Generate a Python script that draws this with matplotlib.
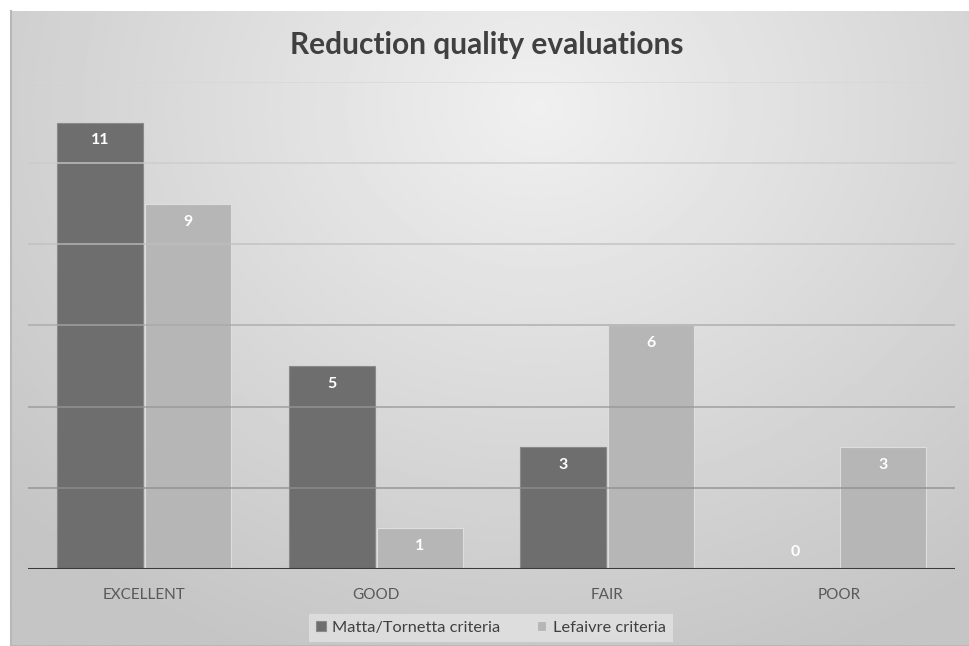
import numpy as np
import matplotlib
matplotlib.use('Agg')
import matplotlib.pyplot as plt
from matplotlib.patches import Rectangle

categories = ['EXCELLENT', 'GOOD', 'FAIR', 'POOR']
matta_tornetta = [11, 5, 3, 0]
lefaivre = [9, 1, 6, 3]
series_names = ['Matta/Tornetta criteria', 'Lefaivre criteria']
title = 'Reduction quality evaluations'

plt.rcParams['font.family'] = ['Lato', 'DejaVu Sans']

W, H = 970, 646
fig = plt.figure(figsize=(W / 100, H / 100), dpi=100)
fig.patch.set_facecolor('white')

# chart area with radial gradient background
bg_ax = fig.add_axes([11 / W, 0, 1 - 11 / W, 1 - 11 / H])
yy, xx = np.mgrid[0:1:300j, 0:1:450j]
dist = np.sqrt(((xx - 0.55) / 0.75) ** 2 + ((yy - 0.15) / 0.95) ** 2)
dist = np.clip(dist, 0, 1)
shade = 0.94 - 0.17 * dist
bg_ax.imshow(shade, cmap='gray', vmin=0, vmax=1, aspect='auto', extent=[0, 1, 1, 0], interpolation='bilinear')
bg_ax.set_xlim(0, 1)
bg_ax.set_ylim(1, 0)
bg_ax.axis('off')
bg_ax.plot([0, 0, 1], [1, 0, 0], color='#b8b8b8', lw=1.5, transform=bg_ax.transAxes, clip_on=False)

ax = fig.add_axes([28 / W, 1 - 569 / H, (955 - 28) / W, (569 - 82) / H])
ax.patch.set_alpha(0)

x = np.arange(len(categories))
bar_w = 0.371
offset = 0.19
bars1 = ax.bar(x - offset, matta_tornetta, bar_w, color='#6e6e6e', edgecolor='#8a8a8a', lw=0.8, zorder=2)
bars2 = ax.bar(x + offset, lefaivre, bar_w, color='#b6b6b6', edgecolor='#dedede', lw=0.8, zorder=2)

# gridlines, lighter towards the top like the reference
grid_colors = {2: '#8e8e8e', 4: '#979797', 6: '#a8a8a8', 8: '#bfbfbf', 10: '#cbcbcb', 12: '#d6d6d6'}
for level, c in grid_colors.items():
    ax.axhline(level, color=c, lw=1.2, alpha=0.8, zorder=3)

ax.axhline(0, color='#3a3a3a', lw=2.2, zorder=4)

for bars, vals in ((bars1, matta_tornetta), (bars2, lefaivre)):
    for b, v in zip(bars, vals):
        ax.text(b.get_x() + b.get_width() / 2, v - 0.44 if v > 0 else 0.42, str(v),
                ha='center', va='center', color='white', fontsize=11.5, fontweight='bold', zorder=5)

ax.set_xlim(-0.5, 3.5)
ax.set_ylim(0, 12)
ax.set_yticks([])
ax.set_xticks(x)
ax.set_xticklabels(categories, fontsize=11, color='#595959')
ax.tick_params(axis='x', length=0, pad=14)
for s in ax.spines.values():
    s.set_visible(False)

fig.text(487 / W, 1 - 45 / H, title, ha='center', va='center', fontsize=21.5, fontweight='bold', color='#404040')

leg = fig.legend([bars1, bars2], series_names, loc='center', bbox_to_anchor=(491 / W, 1 - 628 / H),
                 ncol=2, frameon=True, fontsize=11.8, handlelength=0.6, handleheight=0.6,
                 handletextpad=0.4, columnspacing=2.2, fancybox=False, borderpad=0.4)
leg.get_frame().set_facecolor('#e2e2e2')
leg.get_frame().set_edgecolor('none')
for t in leg.get_texts():
    t.set_color('#404040')

fig.savefig('out.png', dpi=100)
